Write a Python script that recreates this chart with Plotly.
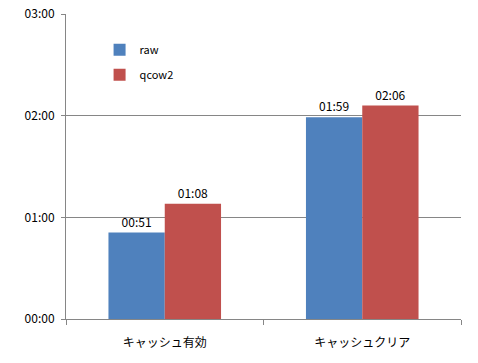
import plotly.graph_objects as go

categories = ["キャッシュ有効", "キャッシュクリア"]
raw_seconds = [51, 119]
qcow2_seconds = [68, 126]
tick_values = [0, 60, 120, 180]
tick_labels = ["00:00", "01:00", "02:00", "03:00"]

def fmt(s):
    return f"{s // 60:02d}:{s % 60:02d}"

font_main = "Noto Sans CJK JP, Liberation Sans, sans-serif"

fig = go.Figure()
fig.add_trace(go.Bar(
    x=categories, y=raw_seconds, name="raw",
    marker=dict(color="#4F81BD", line=dict(width=0)),
    text=[fmt(v) for v in raw_seconds], textposition="outside",
    textfont=dict(size=12, color="black"), cliponaxis=False,
    legendgroup="a",
))
fig.add_trace(go.Bar(
    x=categories, y=qcow2_seconds, name="qcow2",
    marker=dict(color="#C0504D", line=dict(width=0)),
    text=[fmt(v) for v in qcow2_seconds], textposition="outside",
    textfont=dict(size=12, color="black"), cliponaxis=False,
    legendgroup="b",
))

fig.update_layout(
    width=478, height=363,
    margin=dict(l=66, r=17, t=14, b=44, autoexpand=False),
    paper_bgcolor="white", plot_bgcolor="white",
    font=dict(family=font_main, size=11, color="black"),
    barmode="group", bargap=0.43, bargroupgap=0,
    showlegend=True,
    legend=dict(x=0.085, y=0.93, xanchor="left", yanchor="top",
                bgcolor="rgba(0,0,0,0)", font=dict(size=11),
                tracegroupgap=6, itemwidth=30),
    xaxis=dict(showline=True, linecolor="#868686", linewidth=1,
               ticks="outside", tickson="boundaries", tickcolor="#868686",
               ticklen=5, tickfont=dict(size=12), showgrid=False,
               ticklabelstandoff=13, automargin=False),
    yaxis=dict(range=[0, 180], tickvals=tick_values, ticktext=tick_labels,
               showline=True, linecolor="#868686", linewidth=1,
               ticks="outside", tickcolor="#868686", ticklen=4,
               showgrid=True, gridcolor="#868686", gridwidth=1,
               zeroline=False, tickfont=dict(size=12), automargin=False,
               ticklabelstandoff=4),
)

fig.write_html("out.html", config={"displayModeBar": False},
               post_script="document.body.style.margin='0';document.body.style.overflow='hidden';")
